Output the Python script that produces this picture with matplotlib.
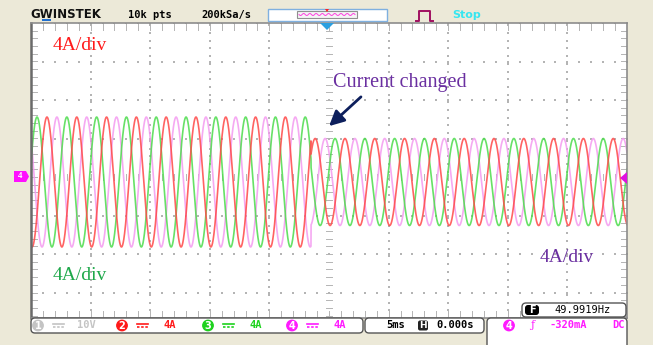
import numpy as np
import matplotlib
matplotlib.use("Agg")
import matplotlib.pyplot as plt
from matplotlib.patches import Rectangle, FancyBboxPatch, Circle, Polygon

# Scope settings
time_per_div = 5.0          # ms
amp_per_div = 4.0           # A
n_points = 10000

# Three-phase currents (A)
phase_names = ["CH4", "CH3", "CH2"]
phase_colors = ["#f49af0", "#4cdc4c", "#ff4848"]
phase_shift_deg = [-120, 120, 0]
period_ms = 2.5
red_peak_ms = -3.66
offset_A = -0.52
amp_before_A = 6.75
amp_after_A = 4.52
change_ms = -1.51

# Status bar labels
ch_labels = ["10V", "4A", "4A", "4A"]
ch_colors = ["#c4c4c4", "#ff1a1a", "#1ed21e", "#ff1aff"]

BG = "#ECE9D8"
W, H = 653, 345

fig = plt.figure(figsize=(W / 100, H / 100), dpi=100)
fig.patch.set_facecolor(BG)

# Screen area
x0, x1, y0, y1 = 31, 627, 23, 318
y_zero = 177
px_per_div_y = 38.5
a_top = (y_zero - y0) / px_per_div_y * amp_per_div
a_bot = -(y1 - y_zero) / px_per_div_y * amp_per_div

ax = fig.add_axes([x0 / W, 1 - y1 / H, (x1 - x0) / W, (y1 - y0) / H])
ax.set_zorder(0)
ax.set_xlim(-5 * time_per_div, 5 * time_per_div)
ax.set_ylim(a_bot, a_top)
ax.set_facecolor("white")
ax.set_xticks([])
ax.set_yticks([])
for s in ax.spines.values():
    s.set_color("#8c8c8c")
    s.set_linewidth(1.2)
ax.spines["left"].set_color("#6a6a6a")
ax.spines["left"].set_linewidth(1.8)

# Pixel-space overlay for the instrument frame and notes
bg = fig.add_axes([0, 0, 1, 1])
bg.set_zorder(1)
bg.patch.set_alpha(0)
bg.set_xlim(0, W)
bg.set_ylim(H, 0)
bg.axis("off")

# Dotted grid
gc = "#b4b4b4"
for k in range(-4, 5):
    yy = np.arange(a_bot, a_top, amp_per_div / 5)
    if k == 0:
        continue
    ax.scatter(np.full_like(yy, k * time_per_div), yy, s=0.6, c=gc, marker="s", lw=0)
for j in range(-3, 5):
    if j == 0:
        continue
    xx = np.arange(-25, 25.01, time_per_div / 5)
    ax.scatter(xx, np.full_like(xx, j * amp_per_div), s=0.6, c=gc, marker="s", lw=0)

# Centre cross and border ticks
tick_x = np.arange(-25, 25.01, time_per_div / 5)
tick_y = np.arange(np.ceil(a_bot / 0.8) * 0.8, a_top, amp_per_div / 5)
dy = 0.35
dx = 0.25
for t in tick_x:
    ax.plot([t, t], [-dy, dy], color=gc, lw=0.7)
    ax.plot([t, t], [a_top - 2 * dy, a_top], color=gc, lw=0.7)
    ax.plot([t, t], [a_bot, a_bot + 2 * dy], color=gc, lw=0.7)
for a in tick_y:
    ax.plot([-dx, dx], [a, a], color=gc, lw=0.7)
    ax.plot([-25, -25 + 2 * dx], [a, a], color=gc, lw=0.7)
    ax.plot([25 - 2 * dx, 25], [a, a], color=gc, lw=0.7)

# Waveforms
t = np.linspace(-25, 25, n_points)
amp = np.where(t < change_ms, amp_before_A, amp_after_A)
for name, col, sh in zip(phase_names, phase_colors, phase_shift_deg):
    i = offset_A + amp * np.cos(2 * np.pi * (t - red_peak_ms) / period_ms + np.deg2rad(sh))
    ax.plot(t, i, color=col, lw=1.2, alpha=0.85, label=name)

# Annotations
serif = "Liberation Serif"
bg.text(53, 46, "4A/div", color="#ff1a1a", fontsize=14, family=serif, va="center", zorder=5)
bg.text(53, 276, "4A/div", color="#1ea84a", fontsize=14, family=serif, va="center", zorder=5)
bg.text(540, 257, "4A/div", color="#6a2fa0", fontsize=14, family=serif, va="center", zorder=5)
bg.text(333, 83, "Current changed", color="#6a2fa0", fontsize=14.5, family=serif, va="center", zorder=5)
bg.annotate("", xy=(327, 128), xytext=(363, 95),
            arrowprops=dict(arrowstyle="-|>,head_length=0.9,head_width=0.45",
                            color="#0d1f5c", lw=2), zorder=5)

# Top bar
mono = "DejaVu Sans Mono"
bg.text(30, 15, "GWINSTEK", fontsize=8.5, fontweight="bold", family="DejaVu Sans",
        va="center", ha="left", color="#111111")
bg.add_patch(Rectangle((42, 19), 9, 2, color="#1f6fd0", lw=0))
bg.text(150, 15, "10k pts", fontsize=7.5, fontweight="bold", family=mono, va="center", ha="center")
bg.text(226, 15, "200kSa/s", fontsize=7.5, fontweight="bold", family=mono, va="center", ha="center")
bg.add_patch(Rectangle((268, 9), 119, 12, fc="white", ec="#7fb0e0", lw=1))
bg.add_patch(Rectangle((297, 11), 60, 6.5, fc="#f4f4f4", ec="#909090", lw=0.8))
wx = np.linspace(299, 355, 120)
bg.plot(wx, 14.5 + 1.0 * np.sin((wx - 299) / 56 * 2 * np.pi * 9), color="#ff40e0", lw=0.7)
bg.add_patch(Polygon([[325, 9], [329, 9], [327, 12]], color="#ff2020", lw=0))
bg.plot([416, 419, 419, 430, 430, 433], [21, 21, 11, 11, 21, 21], color="#a01060", lw=1.4)
bg.text(467, 15, "Stop", fontsize=8, fontweight="bold", family="DejaVu Sans",
        color="#38e6f0", va="center", ha="center")

# Trigger position marker and channel markers
bg.add_patch(Polygon([[320, 23], [334, 23], [327, 30]], color="#2a9fe0", lw=0, zorder=6))
bg.add_patch(Polygon([[14, 171], [26, 171], [29, 176.5], [26, 182], [14, 182]],
                     color="#ff10ff", lw=0, zorder=6))
bg.text(20.5, 176.5, "4", color="white", fontsize=6.5, fontweight="bold",
        ha="center", va="center", family=serif, zorder=7)
bg.add_patch(Polygon([[627, 172], [627, 184], [620, 178]], color="#e010e0", lw=0, zorder=6))


def rbox(x, y, w, h, fc="white", ec="#555555", r=4, lw=1.0):
    bg.add_patch(FancyBboxPatch((x, y), w, h, boxstyle=f"round,pad=0,rounding_size={r}",
                                fc=fc, ec=ec, lw=lw, zorder=4))


def cnum(x, y, s, col):
    bg.add_patch(Circle((x, y), 5.2, color=col, zorder=5))
    bg.text(x, y + 0.3, s, color="white", fontsize=7, fontweight="bold",
            ha="center", va="center", family="DejaVu Sans", zorder=6)


def dc_sym(x, y, col):
    bg.plot([x, x + 11], [y - 1.5, y - 1.5], color=col, lw=1.2, zorder=6)
    bg.plot([x, x + 11], [y + 1.5, y + 1.5], color=col, lw=1.2, ls=(0, (1.5, 1)), zorder=6)


# Frequency readout
rbox(522, 303, 104, 14)
bg.add_patch(FancyBboxPatch((525, 305), 14, 10, boxstyle="round,pad=0,rounding_size=3",
                            fc="black", ec="black", lw=0, zorder=5))
bg.text(532, 310.3, "F", color="white", fontsize=7, fontweight="bold",
        ha="center", va="center", family="DejaVu Sans", zorder=6)
bg.text(583, 310, "49.9919Hz", fontsize=7.5, family=mono, ha="center", va="center", zorder=6)

# Status bar
ys = 325.5
rbox(31, 318, 332, 15)
rbox(365, 318, 119, 15)
rbox(487, 318, 140, 35)
for k, (lab, col, cx) in enumerate(zip(ch_labels, ch_colors, [38, 122, 208, 292])):
    cnum(cx, ys, str(k + 1), col)
    dc_sym(cx + 15, ys, col)
    bg.text(cx + 48, ys, lab, color=col, fontsize=7.5, fontweight="bold", family=mono,
            ha="center", va="center", zorder=6)
bg.text(396, ys, "5ms", fontsize=7.5, fontweight="bold", family=mono, ha="center", va="center", zorder=6)
bg.add_patch(FancyBboxPatch((418, 320.5), 10, 10, boxstyle="round,pad=0,rounding_size=2",
                            fc="#222222", ec="#222222", lw=0, zorder=5))
bg.text(423, ys + 0.3, "H", color="white", fontsize=6.5, fontweight="bold",
        ha="center", va="center", family="DejaVu Sans", zorder=6)
bg.text(455, ys, "0.000s", fontsize=7.5, fontweight="bold", family=mono, ha="center", va="center", zorder=6)
cnum(509, ys, "4", "#ff1aff")
bg.text(532, ys, "ƒ", color="#ff1aff", fontsize=8, family="DejaVu Serif", ha="center", va="center", zorder=6)
bg.text(568, ys, "-320mA", color="#ff1aff", fontsize=7.5, fontweight="bold", family=mono,
        ha="center", va="center", zorder=6)
bg.text(625, ys, "DC", color="#ff1aff", fontsize=7.5, fontweight="bold", family=mono,
        ha="right", va="center", zorder=6)

fig.savefig("out.png", dpi=100, facecolor=BG)
